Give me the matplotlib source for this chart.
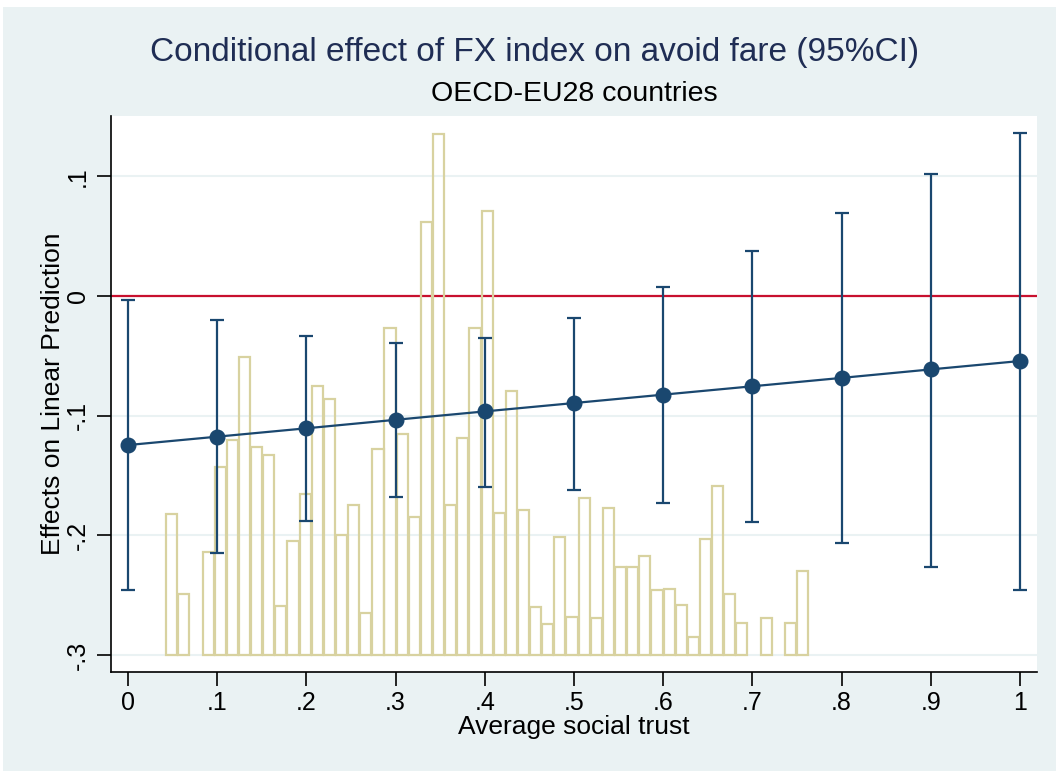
import matplotlib
matplotlib.use("Agg")
import matplotlib.pyplot as plt
import numpy as np
from matplotlib.patches import Rectangle

plt.rcParams['font.family'] = ['Liberation Sans', 'DejaVu Sans']

# margins estimates at average social trust = 0, .1, ..., 1
trust = [0, 0.1, 0.2, 0.3, 0.4, 0.5, 0.6, 0.7, 0.8, 0.9, 1.0]
effect = [-0.1245, -0.1175, -0.1105, -0.1034, -0.0964, -0.0894,
          -0.0824, -0.0754, -0.0684, -0.0613, -0.0543]
ci_upper = [-0.0035, -0.020, -0.0334, -0.0393, -0.035, -0.0184,
            0.0075, 0.0376, 0.0693, 0.102, 0.136]
ci_lower = [-0.2456, -0.2147, -0.188, -0.168, -0.1596, -0.162,
            -0.173, -0.189, -0.2063, -0.2264, -0.2456]

# histogram of average social trust, rescaled onto the y axis (bars start at -.3)
hist_base = -0.3
bin_start = 0.0422
bin_width = 0.0136
hist_heights = [0.118, 0.051, 0.0, 0.086, 0.157, 0.180, 0.249, 0.174, 0.167, 0.041,
                0.095, 0.135, 0.225, 0.214, 0.100, 0.125, 0.035, 0.172, 0.2735, 0.185,
                0.115, 0.362, 0.435, 0.125, 0.181, 0.2735, 0.371, 0.119, 0.221, 0.121,
                0.040, 0.026, 0.099, 0.032, 0.131, 0.031, 0.123, 0.074, 0.074, 0.083,
                0.054, 0.055, 0.042, 0.015, 0.097, 0.1415, 0.051, 0.027, 0.0, 0.031,
                0.0, 0.027, 0.070]

xticks = [0, 0.1, 0.2, 0.3, 0.4, 0.5, 0.6, 0.7, 0.8, 0.9, 1]
xticklabels = ['0', '.1', '.2', '.3', '.4', '.5', '.6', '.7', '.8', '.9', '1']
yticks = [-0.3, -0.2, -0.1, 0, 0.1]
yticklabels = ['-.3', '-.2', '-.1', '0', '.1']

bg = '#EAF2F3'
navy = '#1A476F'
khaki = '#D8D2A0'

W, H = 1056, 771
fig = plt.figure(figsize=(W / 100, H / 100), dpi=100)
fig.patch.set_facecolor('white')
fig.patches.append(Rectangle((3 / W, 0), 1 - 3 / W, 1 - 7 / H, transform=fig.transFigure,
                             facecolor=bg, edgecolor='none', zorder=-10))

ax = fig.add_axes([111 / W, 1 - 672 / H, (1037 - 111) / W, (672 - 116) / H])
ax.set_facecolor('white')

# histogram
centers = bin_start + bin_width * (np.arange(len(hist_heights)) + 0.5)
h = np.array(hist_heights)
keep = h > 0
ax.bar(centers[keep], h[keep], width=bin_width * 0.92, bottom=hist_base, fill=False,
       edgecolor=khaki, linewidth=1.6, zorder=3)

# zero line
ax.axhline(0, color='#C8102E', linewidth=1.6, zorder=2)

# estimates with CIs
eff = np.array(effect)
yerr = [eff - np.array(ci_lower), np.array(ci_upper) - eff]
ax.errorbar(trust, effect, yerr=yerr, fmt='o-', color=navy, ecolor=navy,
            markersize=10.5, linewidth=1.6, elinewidth=1.6, capsize=5, capthick=1.6,
            zorder=4)

ax.set_xlim(-0.01906, 1.01906)
ax.set_ylim(-0.3141, 0.1504)

ax.set_yticks(yticks)
ax.set_yticklabels(yticklabels, rotation=90, va='center', fontsize=18)
ax.set_xticks(xticks)
ax.set_xticklabels(xticklabels, fontsize=18)
ax.tick_params(axis='both', length=10, width=1.2, color='black')
ax.tick_params(axis='x', pad=4)
ax.tick_params(axis='y', pad=5)
ax.grid(axis='y', color=bg, linewidth=1.5, zorder=0)
ax.set_axisbelow(True)

for side in ['top', 'right']:
    ax.spines[side].set_visible(False)
for side in ['left', 'bottom']:
    ax.spines[side].set_linewidth(1.2)

ax.set_xlabel('Average social trust', fontsize=19, labelpad=0)
ax.set_ylabel('Effects on Linear Prediction', fontsize=19, labelpad=1)

fig.text(535 / W, 1 - 52 / H, 'Conditional effect of FX index on avoid fare (95%CI)',
         ha='center', va='center', fontsize=24, color='#1F2D54')
fig.text(574 / W, 1 - 94 / H, 'OECD-EU28 countries', ha='center', va='center',
         fontsize=20.5, color='black')

fig.savefig('out.png', dpi=100, facecolor=fig.get_facecolor())
